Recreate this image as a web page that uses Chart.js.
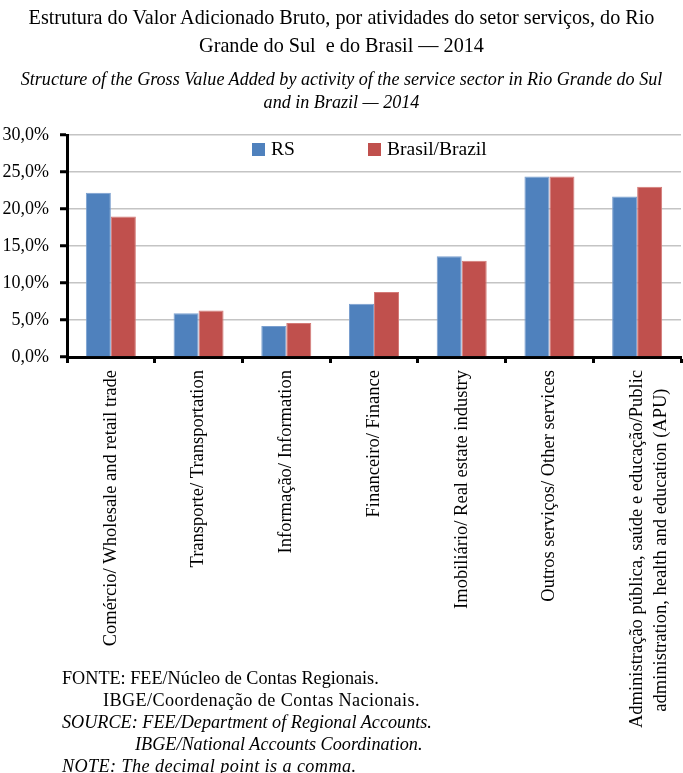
<!DOCTYPE html>
<html>
<head>
<meta charset="utf-8">
<script src="https://cdn.jsdelivr.net/npm/chart.js@4"></script>
<style>
  body { margin: 0; background: #fff; }
  #wrap { position: relative; width: 683px; height: 773px; overflow: hidden; font-family: 'Liberation Serif', serif; color: #000; }
  #chart { position: absolute; left: 0; top: 0; }
  .title { position: absolute; left: 0; width: 683px; text-align: center; font-size: 20.2px; line-height: 28px; top: 3px; }
  .subtitle { position: absolute; left: 0; width: 683px; text-align: center; font-size: 18.1px; line-height: 23px; top: 68px; font-style: italic; }
  .foot { position: absolute; left: 62px; top: 667px; font-size: 18.2px; line-height: 22px; }
  .foot div { white-space: nowrap; }
  .foot .it { font-style: italic; }
</style>
</head>
<body>
<div id="wrap">
  <canvas id="chart" width="683" height="773"></canvas>
  <div class="title">Estrutura do Valor Adicionado Bruto, por atividades do setor serviços, do Rio<br>Grande do Sul&nbsp; e do Brasil — 2014</div>
  <div class="subtitle">Structure of the Gross Value Added by activity of the service sector in Rio Grande do Sul<br>and in Brazil — 2014</div>
  <div class="foot">
    <div>FONTE: FEE/Núcleo de Contas Regionais.</div>
    <div style="padding-left:41px; letter-spacing:0.4px">IBGE/Coordenação de Contas Nacionais.</div>
    <div class="it">SOURCE: FEE/Department of Regional Accounts.</div>
    <div class="it" style="padding-left:73px">IBGE/National Accounts Coordination.</div>
    <div class="it" style="letter-spacing:0.4px">NOTE: The decimal point is a comma.</div>
  </div>
</div>
<script>
// Dados
const categorias = [
    'Comércio/ Wholesale and retail trade',
    'Transporte/ Transportation',
    'Informação/ Information',
    'Financeiro/ Finance',
    'Imobiliário/ Real estate industry',
    'Outros serviços/ Other services',
    ['Administração pública, saúde e educação/Public', 'administration, health and education (APU)    ']
];
const valoresRS = [22.2, 5.9, 4.2, 7.2, 13.6, 24.4, 21.7];
const valoresBrasil = [19.0, 6.3, 4.6, 8.8, 13.0, 24.4, 23.0];
const ticksY = [0, 5, 10, 15, 20, 25, 30];

const serif = "'Liberation Serif', 'Times New Roman', serif";

// Legenda dentro da área do gráfico
const legendaPlugin = {
    id: 'legendaInterna',
    afterDraw(chart) {
        const ctx = chart.ctx;
        const area = chart.chartArea;
        const posicoes = [area.left + 185, area.left + 301];
        ctx.save();
        ctx.font = '19.5px ' + serif;
        ctx.textBaseline = 'middle';
        chart.data.datasets.forEach((ds, i) => {
            const x = posicoes[i];
            const y = area.top + 14;
            ctx.fillStyle = ds.backgroundColor;
            ctx.fillRect(x, y - 6, 13, 13);
            ctx.fillStyle = '#000';
            ctx.fillText(ds.label, x + 19, y + 1);
        });
        ctx.restore();
    }
};

Chart.defaults.font.family = serif;
Chart.defaults.color = '#000';

const ctx = document.getElementById('chart').getContext('2d');
new Chart(ctx, {
    type: 'bar',
    data: {
        labels: categorias,
        datasets: [{
            label: 'RS',
            data: valoresRS,
            backgroundColor: '#4F81BD',
            borderColor: '#7a9fcf',
            borderWidth: 1,
            barPercentage: 1,
            categoryPercentage: 0.57
        }, {
            label: 'Brasil/Brazil',
            data: valoresBrasil,
            backgroundColor: '#C0504D',
            borderColor: '#d47a77',
            borderWidth: 1,
            barPercentage: 1,
            categoryPercentage: 0.57
        }]
    },
    options: {
        responsive: false,
        animation: false,
        layout: { padding: { top: 135, right: 2, left: 0, bottom: 0 } },
        plugins: {
            legend: { display: false },
            tooltip: { enabled: false }
        },
        scales: {
            x: {
                afterFit: (scale) => {
                    scale.height = 416;
                    scale.paddingLeft = 0;
                    scale.paddingRight = 0;
                },
                grid: {
                    drawOnChartArea: false,
                    drawTicks: true,
                    tickLength: 6,
                    tickColor: '#000',
                    tickWidth: 3
                },
                border: { color: '#000', width: 3 },
                ticks: {
                    maxRotation: 90,
                    minRotation: 90,
                    padding: 7,
                    font: { size: 18.5, lineHeight: 1.3 },
                    color: '#000',
                    autoSkip: false
                }
            },
            y: {
                min: 0,
                max: 30,
                afterFit: (scale) => {
                    scale.width = 67;
                    scale.paddingTop = 0;
                    scale.paddingBottom = 0;
                },
                afterBuildTicks: (scale) => { scale.ticks = ticksY.map(v => ({ value: v })); },
                grid: {
                    color: '#c4c4c4',
                    lineWidth: 1.5,
                    tickLength: 7,
                    tickColor: '#000',
                    tickWidth: 3
                },
                border: { color: '#000', width: 3 },
                ticks: {
                    padding: 11,
                    font: { size: 18 },
                    color: '#000',
                    callback: (v) => v.toFixed(1).replace('.', ',') + '%'
                }
            }
        }
    },
    plugins: [legendaPlugin]
});
</script>
</body>
</html>
